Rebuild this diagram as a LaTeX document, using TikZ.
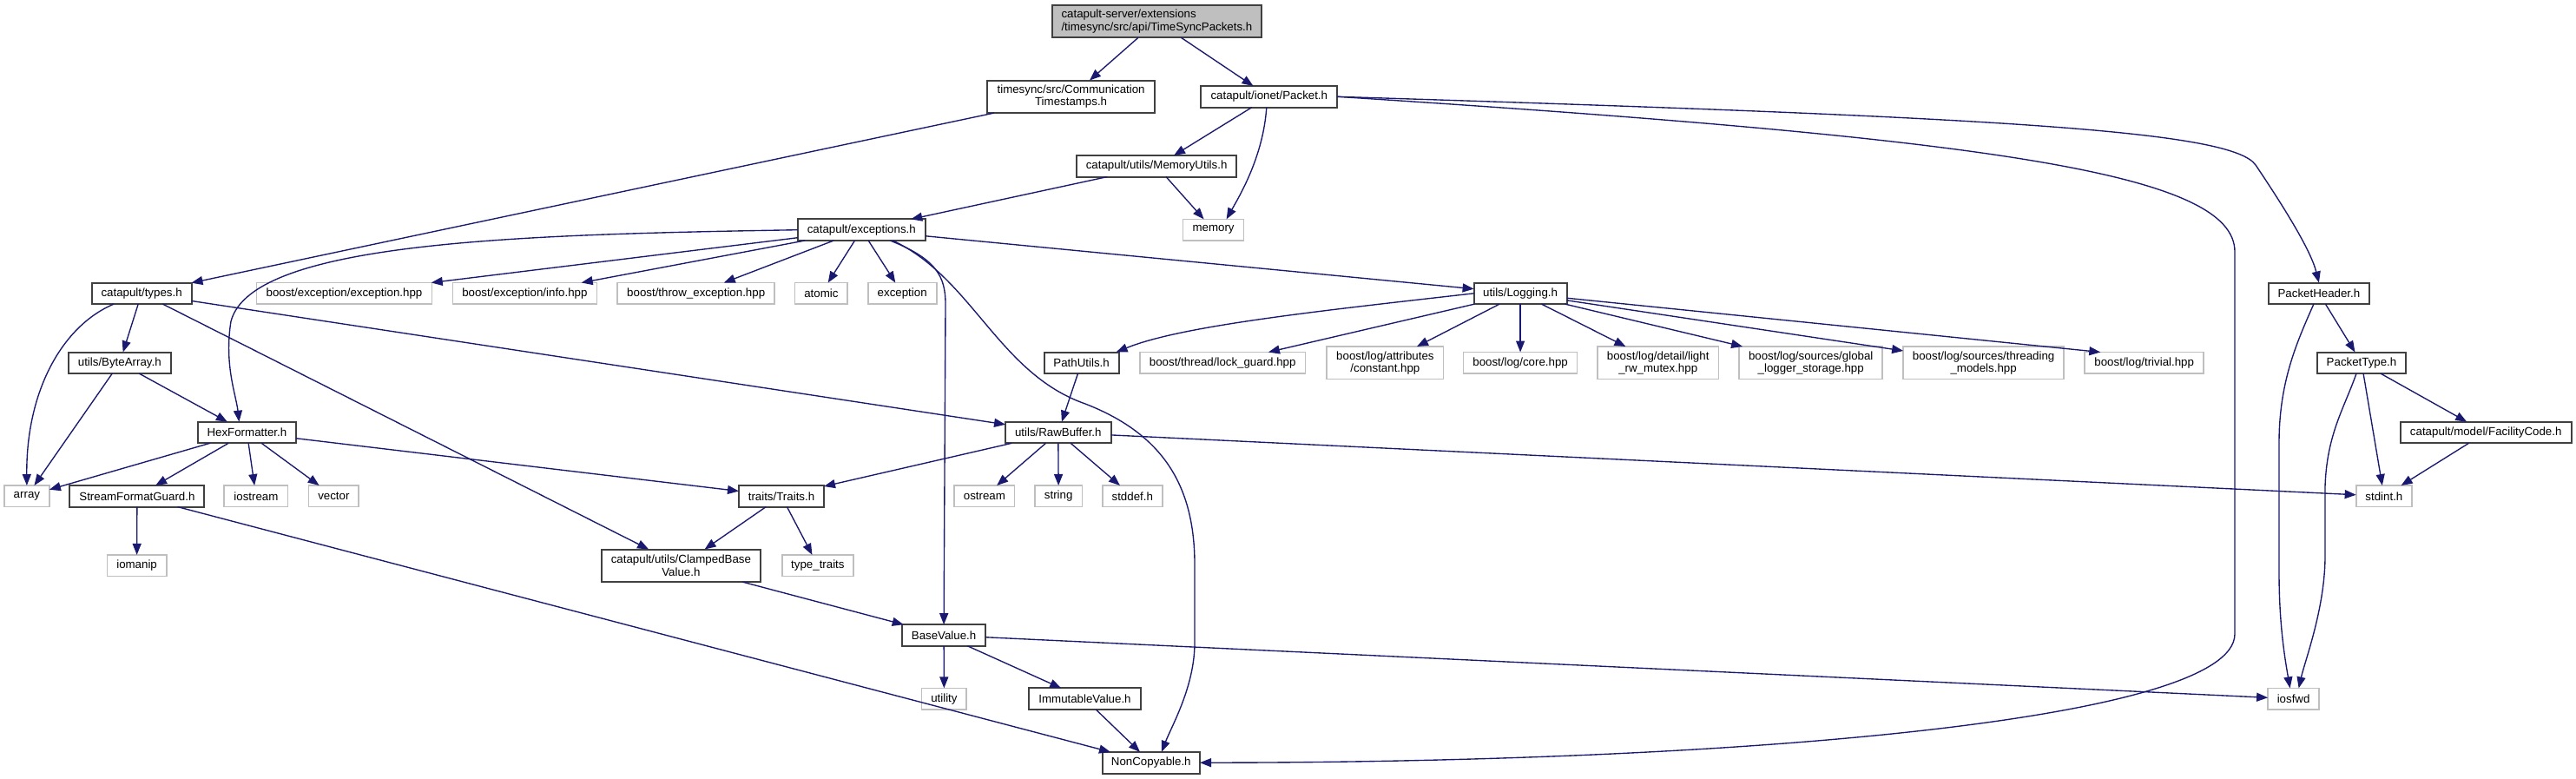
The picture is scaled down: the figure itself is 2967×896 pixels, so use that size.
\documentclass[tikz,border=0pt]{standalone}
\usepackage{fontspec}
\setmainfont{Liberation Sans}
\usetikzlibrary{arrows.meta,calc}
\definecolor{edgeblue}{HTML}{191970}
\definecolor{boxdark}{HTML}{404040}
\definecolor{boxgray}{HTML}{BFBFBF}
\begin{document}
\begin{tikzpicture}[x=0.5pt,y=-0.5pt,
  every node/.style={font=\fontsize{6.65}{7.2}\selectfont, inner sep=0pt, outer sep=0pt, align=center},
  hdr/.style={draw=boxdark, line width=1pt, fill=white},
  sys/.style={draw=boxgray, line width=0.85pt, fill=white},
  rootbox/.style={draw=boxdark, line width=1pt, fill=boxgray},
  one/.style={minimum height=12.3pt},
  two/.style={minimum height=18.8pt},
  bw/.style={minimum width=#1*0.5pt},
  e/.style={draw=edgeblue, line width=0.68pt, -{Triangle[length=6.5pt,width=5pt]}}
]
\useasboundingbox (0,0) rectangle (2967,896);
% nodes
\node[rootbox,two,bw=241.5,align=left] (root) at (1332.4,24.5) {catapult-server/extensions\\/timesync/src/api/TimeSyncPackets.h};
\node[hdr,two,bw=192.3] (comm) at (1233.6,111.3) {timesync/src/Communication\\Timestamps.h};
\node[hdr,one,bw=157] (packet) at (1461.8,111.3) {catapult/ionet/Packet.h};
\node[hdr,one,bw=184.6] (memutils) at (1332.1,191.3) {catapult/utils/MemoryUtils.h};
\node[hdr,one,bw=147] (exceptions) at (992.3,264.7) {catapult/exceptions.h};
\node[sys,one,bw=70] (memory) at (1397.6,264.7) {memory};
\node[hdr,one,bw=114.8] (types) at (163.1,337.8) {catapult/types.h};
\node[sys,one,bw=201.8] (exchpp) at (396.5,337.8) {boost/exception/exception.hpp};
\node[sys,one,bw=166] (infohpp) at (604.4,337.8) {boost/exception/info.hpp};
\node[sys,one,bw=181] (throwhpp) at (801.7,337.8) {boost/throw\_exception.hpp};
\node[sys,one,bw=60.7] (atomic) at (945.9,337.8) {atomic};
\node[sys,one,bw=79] (exception) at (1039.2,337.8) {exception};
\node[hdr,one,bw=107] (logging) at (1751.1,337.8) {utils/Logging.h};
\node[hdr,one,bw=116.6] (pheader) at (2670.9,337.8) {PacketHeader.h};
\node[hdr,one,bw=117.7] (bytearray) at (137.8,417.8) {utils/ByteArray.h};
\node[hdr,one,bw=86] (pathutils) at (1245.6,417.8) {PathUtils.h};
\node[sys,one,bw=190.3] (lockguard) at (1408.2,417.8) {boost/thread/lock\_guard.hpp};
\node[sys,two,bw=134.4] (constant) at (1595.4,417.8) {boost/log/attributes\\/constant.hpp};
\node[sys,one,bw=131] (core) at (1751.1,417.8) {boost/log/core.hpp};
\node[sys,two,bw=139.3] (light) at (1909.7,417.8) {boost/log/detail/light\\\_rw\_mutex.hpp};
\node[sys,two,bw=165] (global) at (2085.7,417.8) {boost/log/sources/global\\\_logger\_storage.hpp};
\node[sys,two,bw=185] (threading) at (2284.6,417.8) {boost/log/sources/threading\\\_models.hpp};
\node[sys,one,bw=136.8] (trivial) at (2469.7,417.8) {boost/log/trivial.hpp};
\node[hdr,one,bw=102.5] (ptype) at (2720,417.8) {PacketType.h};
\node[hdr,one,bw=113.3] (hex) at (284.4,498) {HexFormatter.h};
\node[hdr,one,bw=121.5] (rawbuffer) at (1218.8,498) {utils/RawBuffer.h};
\node[hdr,one,bw=196.6] (facility) at (2863.2,498) {catapult/model/FacilityCode.h};
\node[sys,one,bw=52] (array) at (30.9,571.3) {array};
\node[hdr,one,bw=155] (sfg) at (157.9,571.3) {StreamFormatGuard.h};
\node[sys,one,bw=73.2] (iostream) at (294.9,571.3) {iostream};
\node[sys,one,bw=57.8] (vector) at (384.4,571.3) {vector};
\node[hdr,one,bw=98] (traits) at (900,571.3) {traits/Traits.h};
\node[sys,one,bw=69.4] (ostream) at (1133.9,571.3) {ostream};
\node[sys,one,bw=54.6] (string) at (1219.2,571.3) {string};
\node[sys,one,bw=69] (stddef) at (1304.3,571.3) {stddef.h};
\node[sys,one,bw=64.5] (stdint) at (2745.9,571.3) {stdint.h};
\node[sys,one,bw=68.4] (iomanip) at (157.6,651.2) {iomanip};
\node[hdr,two,bw=182.8] (clamped) at (784.4,651.3) {catapult/utils/ClampedBase\\Value.h};
\node[sys,one,bw=82.3] (typetraits) at (941.9,651.2) {type\_traits};
\node[hdr,one,bw=96.2] (basevalue) at (1087.1,731.5) {BaseValue.h};
\node[sys,one,bw=51.7] (utility) at (1087.4,804.7) {utility};
\node[hdr,one,bw=128.2] (immutable) at (1249.5,804.7) {ImmutableValue.h};
\node[sys,one,bw=59] (iosfwd) at (2641.6,804.7) {iosfwd};
\node[hdr,one,bw=112.4] (noncopy) at (1325.8,878.2) {NonCopyable.h};
% edges
\draw[e] (root) -- (comm);
\draw[e] (root) -- (packet);
\draw[e] (comm) -- (types);
\draw[e] (packet) -- (memutils);
\draw[e] ($(packet.south)+(-3,0)$) .. controls (1455,180) and (1428,225) .. ($(memory.north)+(15,0)$);
\draw[e] (packet.east) .. controls (2300,160) and (2574,200) .. (2574,290) -- (2574,730) .. controls (2574,830) and (2000,878) .. (noncopy.east);
\draw[e] (packet.east) .. controls (2300,135) and (2570,150) .. (2598,190) .. controls (2635,245) and (2662,290) .. (pheader.north);
\draw[e] (memutils) -- (exceptions);
\draw[e] (memutils) -- (memory);
\draw[e] (exceptions.west) .. controls (600,270) and (290,278) .. (266,370) .. controls (258,420) and (272,455) .. ($(hex.north)+(-9,0)$);
\draw[e] (exceptions) -- (exchpp);
\draw[e] (exceptions) -- (infohpp);
\draw[e] (exceptions) -- (throwhpp);
\draw[e] (exceptions) -- (atomic);
\draw[e] (exceptions) -- (exception);
\draw[e] (exceptions) -- (logging);
\draw[e] ($(exceptions.south)+(33,0)$) .. controls (1078,298) and (1089,318) .. (1089,350) -- (basevalue.north);
\draw[e] ($(exceptions.south)+(36,0)$) .. controls (1120,320) and (1150,430) .. (1250,465) .. controls (1340,500) and (1376,560) .. (1376,650) -- (1376,740) .. controls (1376,790) and (1350,835) .. ($(noncopy.north)+(12,0)$);
\draw[e] ($(types.south)+(-32,0)$) .. controls (72,375) and (30,450) .. (array.north);
\draw[e] (types) -- (bytearray);
\draw[e] (types) -- (clamped);
\draw[e] (types) -- (rawbuffer);
\draw[e] (bytearray) -- (array);
\draw[e] (bytearray) -- (hex);
\draw[e] (hex) -- (array);
\draw[e] (hex) -- (sfg);
\draw[e] (hex) -- (iostream);
\draw[e] (hex) -- (vector);
\draw[e] (hex) -- (traits);
\draw[e] (sfg) -- (iomanip);
\draw[e] (sfg) -- (noncopy);
\draw[e] (logging.west) .. controls (1520,358) and (1360,375) .. ($(pathutils.north east)+(-3,0)$);
\draw[e] (logging) -- (lockguard);
\draw[e] (logging) -- (constant);
\draw[e] (logging) -- (core);
\draw[e] (logging) -- (light);
\draw[e] (logging) -- (global);
\draw[e] (logging) -- (threading);
\draw[e] (logging) -- ($(trivial.north west)+(18,0)$);
\draw[e] (pathutils) -- (rawbuffer);
\draw[e] (rawbuffer) -- (traits);
\draw[e] (rawbuffer) -- (ostream);
\draw[e] (rawbuffer) -- (string);
\draw[e] (rawbuffer) -- (stddef);
\draw[e] (rawbuffer) -- (stdint);
\draw[e] (traits) -- (clamped);
\draw[e] (traits) -- (typetraits);
\draw[e] (clamped) -- (basevalue);
\draw[e] (basevalue) -- (utility);
\draw[e] (basevalue) -- (immutable);
\draw[e] (basevalue) -- (iosfwd);
\draw[e] (immutable) -- (noncopy);
\draw[e] (pheader) -- (ptype);
\draw[e] ($(pheader.south)+(-6,0)$) .. controls (2645,395) and (2625,440) .. (2625,510) -- (2625,660) .. controls (2625,720) and (2632,760) .. ($(iosfwd.north)+(-4,0)$);
\draw[e] ($(ptype.south)+(-6,0)$) .. controls (2700,470) and (2680,500) .. (2678,560) -- (2678,640) .. controls (2678,700) and (2655,760) .. ($(iosfwd.north)+(6,0)$);
\draw[e] (ptype) -- (stdint);
\draw[e] (ptype) -- (facility);
\draw[e] (facility) -- (stdint);
\end{tikzpicture}
\end{document}
